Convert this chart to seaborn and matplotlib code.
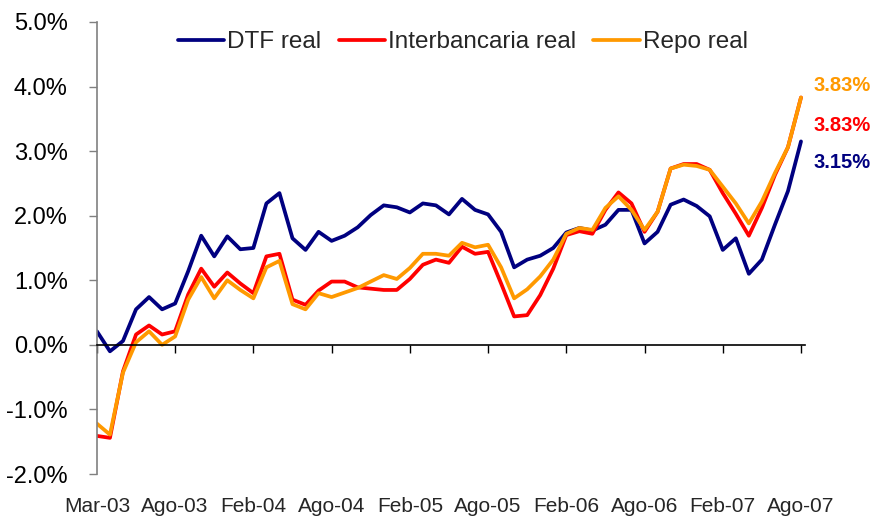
import numpy as np
import pandas as pd
import seaborn as sns
import matplotlib.pyplot as plt
from matplotlib import ticker

# Tasas reales mensuales (%), Mar-03 a Ago-07
dtf = [0.21, -0.10, 0.06, 0.55, 0.74, 0.55, 0.64, 1.14, 1.69, 1.37,
       1.68, 1.48, 1.50, 2.19, 2.35, 1.65, 1.47, 1.75, 1.61, 1.69,
       1.82, 2.01, 2.16, 2.13, 2.05, 2.19, 2.16, 2.02, 2.26, 2.09,
       2.02, 1.75, 1.20, 1.32, 1.38, 1.50, 1.74, 1.81, 1.77, 1.86,
       2.09, 2.09, 1.57, 1.75, 2.17, 2.25, 2.15, 1.99, 1.47, 1.65,
       1.10, 1.32, 1.86, 2.38, 3.15]
interbancaria = [-1.41, -1.44, -0.41, 0.16, 0.30, 0.16, 0.21, 0.78, 1.18, 0.90,
                 1.12, 0.95, 0.80, 1.37, 1.41, 0.70, 0.62, 0.84, 0.98, 0.98,
                 0.89, 0.87, 0.85, 0.85, 1.02, 1.24, 1.32, 1.27, 1.52, 1.41,
                 1.44, 0.95, 0.44, 0.46, 0.77, 1.18, 1.70, 1.76, 1.72, 2.09,
                 2.36, 2.19, 1.75, 2.06, 2.73, 2.80, 2.80, 2.71, 2.35, 2.03,
                 1.69, 2.12, 2.63, 3.06, 3.83]
repo = [-1.22, -1.39, -0.43, 0.04, 0.21, 0.00, 0.13, 0.70, 1.05, 0.72,
        1.00, 0.85, 0.72, 1.20, 1.30, 0.63, 0.55, 0.80, 0.74, 0.81,
        0.88, 0.98, 1.08, 1.02, 1.19, 1.41, 1.41, 1.38, 1.58, 1.51,
        1.55, 1.20, 0.72, 0.86, 1.06, 1.32, 1.72, 1.81, 1.78, 2.12,
        2.30, 2.09, 1.78, 2.06, 2.73, 2.79, 2.77, 2.71, 2.45, 2.19,
        1.88, 2.22, 2.66, 3.06, 3.83]

etiquetas_x = ['Mar-03', 'Ago-03', 'Feb-04', 'Ago-04', 'Feb-05',
               'Ago-05', 'Feb-06', 'Ago-06', 'Feb-07', 'Ago-07']
series = ['DTF real', 'Interbancaria real', 'Repo real']
cores = ['#000080', '#FF0000', '#FF9900']

n = len(dtf)
dados = pd.DataFrame({
    'periodo': np.tile(np.arange(n), 3),
    'valor': dtf + interbancaria + repo,
    'serie': np.repeat(series, n),
})

sns.set_theme(style="white")
plt.rcParams['font.family'] = ['Liberation Sans', 'DejaVu Sans']

fig = plt.figure(figsize=(8.73, 5.19), dpi=100)
ax = fig.add_axes([0.111, 0.0867, 0.811, 0.871])
sns.lineplot(data=dados, x='periodo', y='valor', hue='serie', palette=cores,
             linewidth=2.7, ax=ax)

ax.set_xlim(0, 54.3)
ax.set_ylim(-2, 5)
ax.set_xlabel(None)
ax.set_ylabel(None)

# eixo y
ax.set_yticks(range(-2, 6))
ax.yaxis.set_major_formatter(ticker.FuncFormatter(lambda v, p: f'{v:.1f}%'))
ax.tick_params(axis='y', direction='out', length=6, width=1, color='#808080',
               pad=15, labelsize=17, labelcolor='black', left=True)
ax.spines['left'].set_color('#808080')
ax.spines['left'].set_linewidth(1.2)

# eixo x na linha do zero
posicoes = list(range(0, n, 6))
ax.spines['bottom'].set_position(('data', 0))
ax.spines['bottom'].set_color('black')
ax.spines['bottom'].set_linewidth(1.2)
ax.set_xticks(posicoes)
ax.tick_params(axis='x', direction='out', length=6, width=1, color='black',
               bottom=True, labelbottom=False)
for pos, rotulo in zip(posicoes, etiquetas_x):
    ax.text(pos, -0.071, rotulo, transform=ax.get_xaxis_transform(),
            ha='center', va='center', fontsize=15)

ax.spines['top'].set_visible(False)
ax.spines['right'].set_visible(False)

# legenda
handles, labels = ax.get_legend_handles_labels()
ax.legend(handles, labels, loc='center', bbox_to_anchor=(0.517, 0.955), ncol=3,
          frameon=False, fontsize=17.5, handlelength=1.9, handletextpad=0.15,
          columnspacing=0.7)

# valores finais
ax.annotate(f'{repo[-1]:.2f}%', xy=(n - 1, repo[-1]), xytext=(9, 9),
            textcoords='offset points', ha='left', va='center', fontsize=14.5,
            fontweight='bold', color=cores[2], annotation_clip=False)
ax.annotate(f'{interbancaria[-1]:.2f}%', xy=(n - 1, interbancaria[-1]), xytext=(9, -20),
            textcoords='offset points', ha='left', va='center', fontsize=14.5,
            fontweight='bold', color=cores[1], annotation_clip=False)
ax.annotate(f'{dtf[-1]:.2f}%', xy=(n - 1, dtf[-1]), xytext=(9, -15),
            textcoords='offset points', ha='left', va='center', fontsize=14.5,
            fontweight='bold', color=cores[0], annotation_clip=False)

plt.savefig('out.png', dpi=100)
plt.close()
